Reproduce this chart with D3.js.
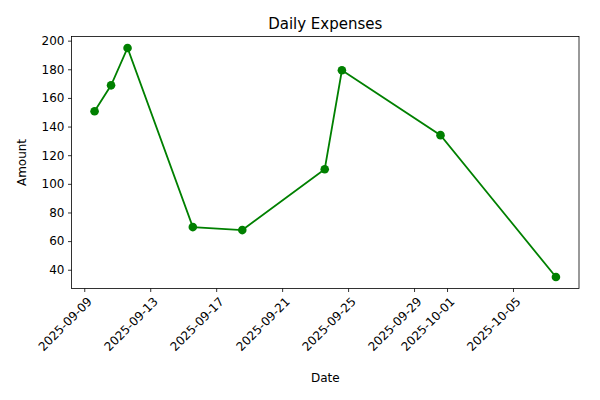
<!DOCTYPE html>
<html><head><meta charset="utf-8">
<script src="https://cdn.jsdelivr.net/npm/d3@7"></script>
<style>body{margin:0;background:#fff}text{font-family:"DejaVu Sans",sans-serif}</style>
</head><body><div id="chart"></div>
<script>
// Data
const dates = ["2025-09-09T15:00", "2025-09-10T15:00", "2025-09-11T15:00", "2025-09-15T14:00",
  "2025-09-18T14:00", "2025-09-23T14:00", "2025-09-24T15:00", "2025-09-30T14:30", "2025-10-07T14:30"];
const amounts = [150.7, 168.8, 194.9, 69.8, 67.7, 110.2, 179.3, 134, 34.9];
const tickDates = ["2025-09-09", "2025-09-13", "2025-09-17", "2025-09-21", "2025-09-25", "2025-09-29", "2025-10-01", "2025-10-05"];
const yTicks = [40, 60, 80, 100, 120, 140, 160, 180, 200];

const data = dates.map((d, i) => ({ time: new Date(d), value: amounts[i] }));

const margin = { top: 36.5, right: 21, bottom: 111.5, left: 71.5 };
const fullWidth = 600, fullHeight = 400;
const width = fullWidth - margin.left - margin.right;
const height = fullHeight - margin.top - margin.bottom;

const svg = d3.select("#chart").append("svg")
  .attr("width", fullWidth).attr("height", fullHeight);
const g = svg.append("g").attr("transform", `translate(${margin.left},${margin.top})`);

// matplotlib-like 5% margins
const [t0, t1] = d3.extent(data, d => d.time);
const tp = (t1 - t0) * 0.05;
const xScale = d3.scaleTime().domain([new Date(+t0 - tp), new Date(+t1 + tp)]).range([0, width]);
const [v0, v1] = d3.extent(amounts);
const vp = (v1 - v0) * 0.05;
const yScale = d3.scaleLinear().domain([v0 - vp, v1 + vp]).range([height, 0]);

const xAxis = d3.axisBottom(xScale)
  .tickValues(tickDates.map(d => new Date(d + "T00:00")))
  .tickFormat(d3.timeFormat("%Y-%m-%d")).tickSizeOuter(0).tickSize(3.5).tickPadding(3.5);
const xg = g.append("g").attr("transform", `translate(0,${height})`).call(xAxis);
xg.selectAll("text").attr("font-size", 12).attr("fill", "#000")
  .attr("text-anchor", "end").attr("dx", "0").attr("dy", "0")
  .attr("transform", "translate(3,9) rotate(-45)");

const yAxis = d3.axisLeft(yScale).tickValues(yTicks).tickSizeOuter(0).tickSize(3.5).tickPadding(3.5);
const yg = g.append("g").call(yAxis);
yg.selectAll("text").attr("font-size", 12).attr("fill", "#000");
g.selectAll(".domain").remove();
g.selectAll(".tick line").attr("stroke", "#000").attr("stroke-width", 0.8);

g.append("rect").attr("width", width).attr("height", height)
  .attr("fill", "none").attr("stroke", "#000").attr("stroke-width", 0.8);

g.append("path").datum(data)
  .attr("fill", "none").attr("stroke", "green").attr("stroke-width", 1.8)
  .attr("d", d3.line().x(d => xScale(d.time)).y(d => yScale(d.value)));

g.selectAll("circle").data(data).enter().append("circle")
  .attr("cx", d => xScale(d.time)).attr("cy", d => yScale(d.value))
  .attr("r", 4.3).attr("fill", "green");

svg.append("text").attr("x", margin.left + width / 2).attr("y", 29)
  .attr("text-anchor", "middle").attr("font-size", 15).text("Daily Expenses");
svg.append("text").attr("x", margin.left + width / 2).attr("y", 382)
  .attr("text-anchor", "middle").attr("font-size", 12).text("Date");
svg.append("text").attr("transform", `translate(26,${margin.top + height / 2}) rotate(-90)`)
  .attr("text-anchor", "middle").attr("font-size", 12).text("Amount");
</script></body></html>
